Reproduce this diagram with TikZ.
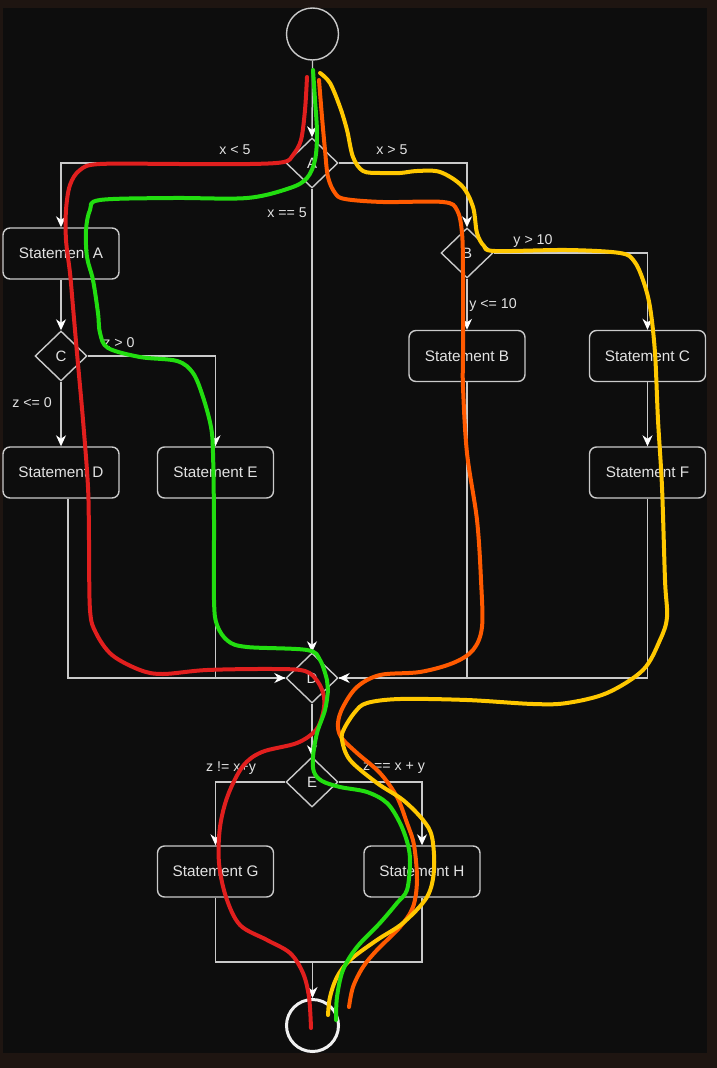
\documentclass[tikz,border=0pt]{standalone}
\usepackage{fontspec}
\setmainfont{Liberation Sans}
\usetikzlibrary{shapes.geometric,arrows.meta}
\definecolor{bgframe}{HTML}{1E1511}
\definecolor{bginner}{HTML}{0D0D0D}
\definecolor{linec}{HTML}{CACACA}
\definecolor{txtc}{HTML}{E2E2E2}
\definecolor{penred}{HTML}{E11F1E}
\definecolor{pengreen}{HTML}{22DD10}
\definecolor{penorange}{HTML}{FF5A00}
\definecolor{penyellow}{HTML}{FFC800}
\begin{document}
\begin{tikzpicture}[x=1pt,y=-1pt,
  conn/.style={draw=linec,line width=1.4pt},
  arr/.style={conn,-{Stealth[length=11pt,width=10pt,inset=3.5pt,color=white]}},
  stmt/.style={draw=linec,line width=1.4pt,rounded corners=7pt,minimum width=116pt,minimum height=51pt,inner sep=0pt,text=txtc,font=\fontsize{15.3}{18}\selectfont},
  dec/.style={draw=linec,line width=1.4pt,diamond,minimum width=52pt,minimum height=50pt,inner sep=0pt,text=txtc,font=\fontsize{15}{18}\selectfont},
  lbl/.style={inner sep=0pt,text=txtc,font=\fontsize{14.2}{17}\selectfont},
  pen/.style={line width=4pt,line cap=round,line join=round}]
\useasboundingbox (0,0) rectangle (717,1068);
\fill[bgframe] (0,0) rectangle (717,1068);
\fill[bginner] (2.5,8) rectangle (707,1053);

% nodes
\node[circle,draw=linec,line width=1.4pt,minimum size=52pt,inner sep=0pt] (start) at (312.5,34) {};
\node[dec] (A) at (312,163) {A};
\node[dec] (B) at (467,253) {B};
\node[dec] (C) at (61,356) {C};
\node[dec] (D) at (312,678) {D};
\node[dec] (E) at (312,782) {E};
\node[stmt] (sA) at (61,253.5) {Statement A};
\node[stmt] (sB) at (467,356) {Statement B};
\node[stmt] (sC) at (647.5,356) {Statement C};
\node[stmt] (sD) at (61,472.5) {Statement D};
\node[stmt] (sE) at (215.5,472.5) {Statement E};
\node[stmt] (sF) at (647.5,472.5) {Statement F};
\node[stmt] (sG) at (215.5,871.5) {Statement G};
\node[stmt] (sH) at (422,871.5) {Statement H};
\node[circle,draw=white!94!black,line width=3pt,minimum size=52pt,inner sep=0pt] (end) at (312.5,1025.5) {};
\coordinate (m2) at (312.5,962);

% labels
\node[lbl] (l1) at (235,150) {x < 5};
\node[lbl] (l2) at (392,150) {x > 5};
\node[lbl] (l3) at (287,213) {x == 5};
\node[lbl] (l4) at (119,343) {z > 0};
\node[lbl] (l5) at (32,403) {z <= 0};
\node[lbl] (l6) at (533,241) {y > 10};
\node[lbl] (l7) at (493,305) {y <= 10};
\node[lbl] (l8) at (231,768) {z != x+y};
\node[lbl] (l9) at (394,768) {z == x + y};

% connectors
\draw[arr] (start.south) -- (A.north);
\draw[arr] (A.west) -| (sA.north);
\draw[arr] (A.east) -| (B.north);
\draw[arr] (A.south) -- (D.north);
\draw[arr] (sA.south) -- (C.north);
\draw[arr] (C.east) -| (sE.north);
\draw[arr] (C.south) -- (sD.north);
\draw[arr] (B.south) -- (sB.north);
\draw[arr] (B.east) -| (sC.north);
\draw[arr] (sC.south) -- (sF.north);
\draw[conn] (sE.south) |- (D.west);
\draw[arr] ([xshift=7pt]sD.south) |- (D.west);
\draw[conn] (sF.south) |- (D.east);
\draw[arr] (sB.south) |- (D.east);
\draw[arr] (D.south) -- (E.north);
\draw[arr] (E.west) -| (sG.north);
\draw[arr] (E.east) -| (sH.north);
\draw[conn] (sG.south) |- (m2);
\draw[conn] (sH.south) |- (m2);
\draw[arr] (m2) -- (end.north);

% freehand strokes
\draw[pen,penred] plot[smooth,tension=0.55] coordinates {(307,77) (305,110) (301,140) (293,155) (284,162) (250,164) (180,164) (100,164) (80,170) (70,185) (66,210) (66,240) (70,273) (73,307) (77,353) (83,420) (88,487) (89,540) (90,610) (96,633) (112,655) (140,670) (163,674) (207,670) (273,669) (305,671) (318,682) (324,697) (323,713) (316,730) (297,743) (262,752) (243,766) (228,795) (220,827) (219,863) (226,897) (240,925) (267,940) (290,953) (303,973) (309,997) (311,1028)};
\draw[pen,penorange] plot[smooth,tension=0.55] coordinates {(319,80) (322,117) (325,150) (328,177) (335,193) (345,199) (383,202) (443,202) (457,210) (462,233) (463,273) (463,353) (463,387) (467,453) (477,520) (481,580) (482,627) (473,650) (453,663) (420,672) (380,675) (357,687) (343,707) (338,723) (341,737) (357,753) (380,773) (397,797) (407,823) (414,845) (417,880) (413,907) (400,927) (377,950) (363,967) (353,987) (349,1007)};
\draw[pen,penyellow] plot[smooth,tension=0.55] coordinates {(320,73) (330,83) (340,107) (347,130) (353,157) (363,171) (380,173) (400,173) (417,171) (440,172) (462,186) (473,207) (477,233) (484,246) (495,251) (567,250) (620,253) (634,261) (643,280) (650,307) (655,353) (658,420) (662,487) (665,580) (667,617) (660,640) (643,670) (607,693) (567,703) (533,704) (467,700) (400,699) (367,703) (355,712) (344,729) (342,740) (350,760) (377,783) (403,800) (423,820) (432,837) (434,870) (427,897) (403,923) (377,940) (350,960) (337,977) (330,997) (328,1015)};
\draw[pen,pengreen] plot[smooth,tension=0.55] coordinates {(313,70) (315,100) (317,133) (315,160) (307,178) (290,188) (247,198) (173,198) (100,200) (90,210) (86,230) (87,257) (93,280) (98,313) (100,333) (108,348) (140,357) (177,361) (193,373) (203,397) (211,427) (213,453) (214,520) (214,600) (217,625) (228,641) (247,647) (307,650) (320,660) (327,680) (328,690) (325,710) (317,733) (313,757) (314,772) (322,781) (340,787) (367,792) (387,803) (400,823) (408,845) (410,863) (407,890) (397,903) (380,923) (357,947) (343,970) (337,997) (336,1020)};
\end{tikzpicture}
\end{document}
